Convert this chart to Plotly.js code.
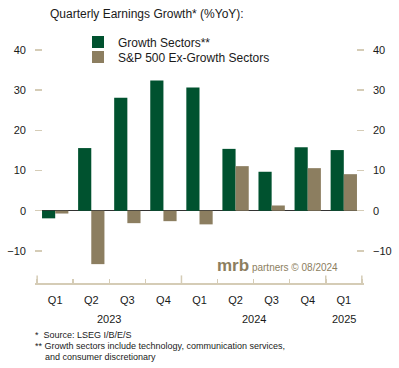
<!DOCTYPE html>
<html><head><meta charset="utf-8">
<script src="https://cdn.plot.ly/plotly-3.0.1.min.js"></script>
<style>html,body{margin:0;padding:0;background:#fff}</style>
</head><body><div id="chart" style="width:399px;height:368px"></div>
<script>
const quarters = ['Q1','Q2','Q3','Q4','Q1','Q2','Q3','Q4','Q1'];
const years = ['2023','2023','2023','2023','2024','2024','2024','2024','2025'];
const growthSectors = [-1.9, 15.6, 28.1, 32.4, 30.7, 15.4, 9.7, 15.8, 15.1];
const exGrowthSectors = [-0.7, -13.3, -3.1, -2.6, -3.4, 11.1, 1.3, 10.6, 9.1];
const yTicks = [-10, 0, 10, 20, 30, 40];
const seriesNames = ['Growth Sectors**', 'S&P 500 Ex-Growth Sectors'];
const titleText = 'Quarterly Earnings Growth* (%YoY):';
const footnotes = ['*  Source: LSEG I/B/E/S',
  '** Growth sectors include technology, communication services,',
  '    and consumer discretionary'];
const watermark = '<b>mrb</b><span style="font-size:10px"> partners © 08/2024</span>';

const GREEN = '#00522F', TAN = '#8C7E60', AXIS = '#D5CCB6', TXT = '#1a1a1a';
const FONT = 'Liberation Sans, Arial, sans-serif';

// plot-area geometry helpers (pixels -> paper fractions)
const L = 35, R = 35, T = 30, B = 85, W = 399, H = 368;
const PW = W - L - R, PH = H - T - B;
const px = v => (v - L) / PW, py = v => (H - B - v) / PH;

const xKeys = quarters.map((q, i) => years[i] + ' ' + q);

// year groups derived from the years array
const bounds = [-0.5];
for (let i = 1; i < years.length; i++) if (years[i] !== years[i-1]) bounds.push(i - 0.5);
bounds.push(years.length - 0.5);
const yearLabels = [];
for (let k = 0; k < bounds.length - 1; k++) {
  const a = bounds[k] + 0.5, b = bounds[k+1] - 0.5;
  yearLabels.push({text: years[a], pos: (a + b) / 2});
}

const traces = [
  {type:'bar', name:seriesNames[0], x:xKeys, y:growthSectors, marker:{color:GREEN}, hoverinfo:'skip', legend:'legend'},
  {type:'bar', name:seriesNames[1], x:xKeys, y:exGrowthSectors, marker:{color:TAN}, hoverinfo:'skip', legend:'legend2'},
  {type:'scatter', mode:'markers', x:xKeys, y:growthSectors, yaxis:'y2', marker:{opacity:0}, showlegend:false, hoverinfo:'skip'}
];

const shapes = bounds.map(b => ({type:'line', xref:'x', yref:'paper', x0:b, x1:b, y0:0, y1:0.03, line:{color:AXIS, width:1.5}}));

const annotations = [
  {xref:'paper', yref:'paper', x:px(340), y:py(265), xanchor:'right', yanchor:'middle', showarrow:false, text:watermark, font:{family:FONT, size:17, color:TAN}},
];
yearLabels.forEach(y => annotations.push({xref:'x', yref:'paper', x:y.pos, y:py(319), xanchor:'center', yanchor:'middle', showarrow:false, text:y.text, font:{family:FONT, size:11, color:TXT}}));
footnotes.forEach((t, i) => annotations.push({xref:'paper', yref:'paper', x:px(33), y:py(335 + i*11), xanchor:'left', yanchor:'middle', showarrow:false, text:t.replace(/ /g,'&nbsp;'), font:{family:FONT, size:9, color:TXT}}));

const yCommon = {range:[-18,45], tickvals:yTicks, ticks:'inside', ticklen:7, tickcolor:AXIS, tickwidth:1.5, showgrid:false, showline:false, ticklabelstandoff:8, tickfont:{family:FONT, size:11, color:TXT}, fixedrange:true};
const legCommon = {xanchor:'left', yanchor:'middle', bgcolor:'rgba(0,0,0,0)', font:{family:FONT, size:12, color:TXT}};

const layout = {
  width:W, height:H,
  margin:{l:L, r:R, t:T, b:B},
  paper_bgcolor:'#fff', plot_bgcolor:'#fff',
  font:{family:FONT, color:TXT},
  title:{text:titleText, xref:'container', yref:'container', x:50/W, y:1-14/H, xanchor:'left', yanchor:'middle', font:{family:FONT, size:12, color:TXT}},
  barmode:'group', bargap:0.27, bargroupgap:0,
  showlegend:true,
  legend:Object.assign({x:px(78), y:py(42)}, legCommon),
  legend2:Object.assign({x:px(78), y:py(57)}, legCommon),
  xaxis:{type:'category', tickmode:'array', tickvals:xKeys, ticktext:quarters, tickson:'boundaries', showline:true, linecolor:AXIS, linewidth:2, ticks:'inside', ticklen:4, tickcolor:AXIS, tickwidth:1.5, showgrid:false, ticklabelstandoff:6, tickfont:{family:FONT, size:11, color:TXT}, fixedrange:true},
  yaxis:Object.assign({}, yCommon, {side:'left', zeroline:true, zerolinecolor:'#333', zerolinewidth:1}),
  yaxis2:Object.assign({}, yCommon, {side:'right', overlaying:'y', zeroline:false}),
  shapes:shapes,
  annotations:annotations
};
Plotly.newPlot('chart', traces, layout, {staticPlot:true, displayModeBar:false});
</script></body></html>
